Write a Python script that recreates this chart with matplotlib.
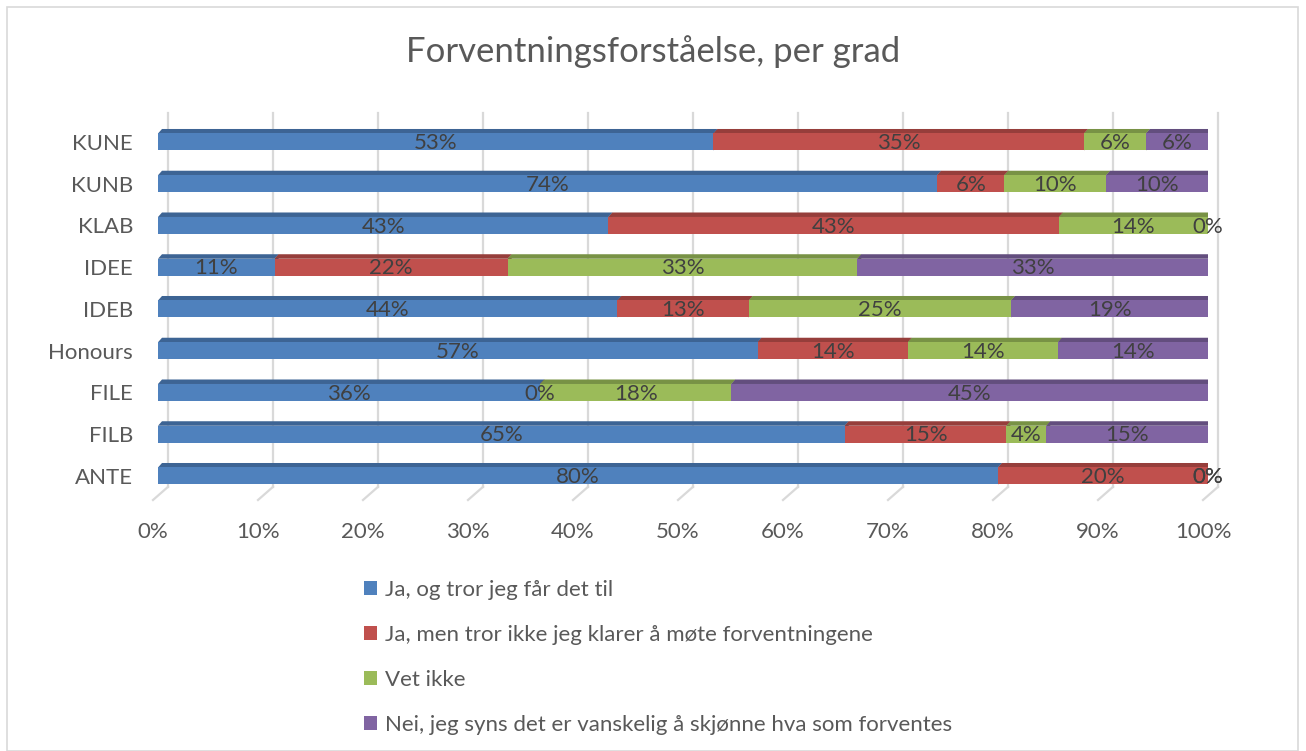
import numpy as np
import matplotlib.pyplot as plt
from matplotlib.patches import Polygon, Rectangle, Patch
from matplotlib.transforms import ScaledTranslation

plt.rcParams["font.family"] = ["Lato", "DejaVu Sans"]

categories = ["ANTE", "FILB", "FILE", "Honours", "IDEB", "IDEE", "KLAB", "KUNB", "KUNE"]
series     = ["Ja, og tror jeg får det til",
              "Ja, men tror ikke jeg klarer å møte forventningene",
              "Vet ikke",
              "Nei, jeg syns det er vanskelig å skjønne hva som forventes"]
ja_tror    = [80.0, 65.4, 36.4, 57.1, 43.75, 11.1, 42.9, 74.2, 52.9]
ja_men     = [20.0, 15.4,  0.0, 14.3, 12.5,  22.2, 42.9,  6.4, 35.3]
vet_ikke   = [ 0.0,  3.8, 18.2, 14.3, 25.0,  33.3, 14.2,  9.7,  5.9]
nei        = [ 0.0, 15.4, 45.4, 14.3, 18.75, 33.4,  0.0,  9.7,  5.9]
xticks     = np.arange(0, 101, 10)

colors = ["#4F81BD", "#C0504D", "#9BBB59", "#8064A2"]
tops   = ["#3D6494", "#963E3B", "#789245", "#634E7E"]
sides  = ["#33547C", "#7E3432", "#657A3A", "#53416A"]

W, H = 1306, 751
fig = plt.figure(figsize=(W / 100, H / 100), dpi=100)
fig.patches.append(Rectangle((7 / W, 0), 1291 / W, 744 / H, transform=fig.transFigure,
                             fill=False, ec="#d9d9d9", lw=1.2))

ax = fig.add_axes([158 / W, (H - 500) / H, 1050 / W, 390 / H])
ax.set_xlim(0, 100)
ax.set_ylim(-0.575, 8.766)
for s in ax.spines.values():
    s.set_visible(False)

px_x = 100 / 1050          # data units per pixel (x)
px_y = 9.341 / 390         # data units per pixel (y)
dx, dy = 4 * px_x, 4.5 * px_y
h = 17 * px_y

# back-wall gridlines with floor diagonal
for xt in xticks:
    gx = xt + 10 * px_x
    ax.plot([gx, gx], [-0.26, 8.69], color="#d9d9d9", lw=1.6, zorder=0, clip_on=False)
    ax.plot([gx, xt - 5 * px_x], [-0.26, -0.575], color="#d9d9d9", lw=1.6, zorder=0,
            clip_on=False)

data = np.array([ja_tror, ja_men, vet_ikke, nei])
y = np.arange(len(categories))
left = np.zeros(len(categories))
for k in range(4):
    vals = data[k]
    for i in range(len(categories)):
        x0, x1 = left[i], left[i] + vals[i]
        yt = y[i] + h / 2
        yb = y[i] - h / 2
        ax.add_patch(Polygon([(x0, yt), (x1, yt), (x1 + dx, yt + dy), (x0 + dx, yt + dy)],
                             closed=True, fc=tops[k], ec="none", zorder=2))
        ax.add_patch(Polygon([(x1, yb), (x1 + dx, yb + dy), (x1 + dx, yt + dy), (x1, yt)],
                             closed=True, fc=sides[k], ec="none", zorder=2))
    ax.barh(y, vals, left=left, height=h, color=colors[k], zorder=3)
    for i in range(len(categories)):
        ax.text(left[i] + vals[i] / 2, y[i] - 0.03, f"{int(np.floor(vals[i] + 0.5))}%",
                ha="center", va="center", fontsize=16, color="#404040", zorder=5)
    left += vals

ax.set_yticks(y)
ax.set_yticklabels(categories, fontsize=16, color="#595959")
ax.set_xticks(xticks)
ax.set_xticklabels([f"{v}%" for v in xticks], fontsize=16, color="#595959")
ax.tick_params(axis="y", length=0, pad=18)
ax.tick_params(axis="x", length=0, pad=16)
for lab in ax.get_xticklabels():
    lab.set_transform(lab.get_transform() + ScaledTranslation(-0.05, 0, fig.dpi_scale_trans))

fig.text(0.5, 1 - 52 / H, "Forventningsforståelse, per grad", ha="center", va="center",
         fontsize=25, color="#595959")

handles = [Patch(facecolor=c) for c in colors]
fig.legend(handles, series, loc="upper left", bbox_to_anchor=(364 / W, 1 - 580 / H),
           frameon=False, fontsize=16, labelcolor="#595959", handlelength=0.6,
           handleheight=0.6, handletextpad=0.35, labelspacing=1.12, borderpad=0,
           borderaxespad=0)

plt.savefig("out.png", dpi=100)
